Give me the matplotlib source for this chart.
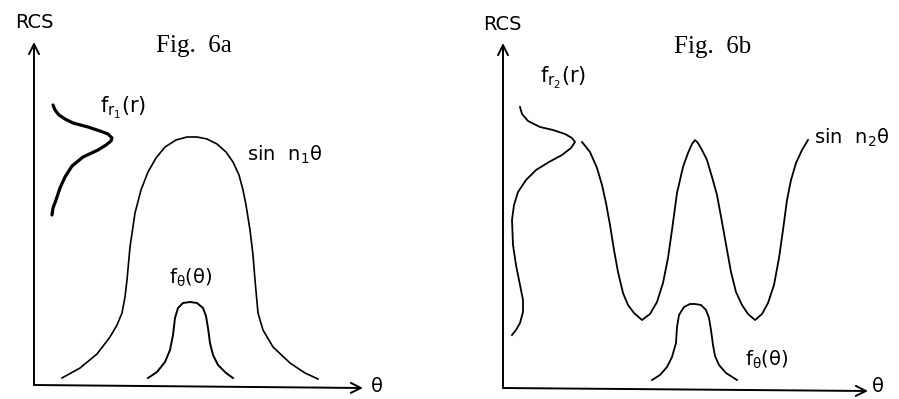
import matplotlib
matplotlib.use("Agg")
import matplotlib.pyplot as plt

# Values (picture pixel units, y downward)

# ---- Fig. 6a ----
a_axis_x = [34, 34, 363]          # top of RCS axis / origin / end of theta axis
a_axis_y = [42, 385, 388]
a_fr_x = [53, 55, 59, 65, 73, 88, 100, 108, 112, 111, 106, 98, 83, 72, 65, 60, 56, 53, 52]
a_fr_y = [105, 110, 115, 119, 123, 127, 131, 134, 138, 141, 145, 150, 157, 166, 177, 188, 200, 208, 215]
a_sin_x = [62, 80, 97, 110, 117, 122, 125, 127, 130, 135, 141, 148, 156, 165, 176, 187, 197,
           207, 217, 226, 233, 239, 243, 246, 250, 253, 255, 258, 263, 273, 290, 305, 318]
a_sin_y = [378, 368, 354, 337, 325, 313, 297, 280, 247, 213, 190, 172, 158, 147, 140, 137, 137,
           139, 144, 152, 162, 175, 190, 205, 230, 255, 280, 313, 330, 347, 363, 373, 379]
a_ft_x = [148, 157, 165, 170, 173, 175, 178, 183, 190, 197, 203, 206, 208, 210, 213, 218, 226, 233]
a_ft_y = [378, 372, 362, 350, 335, 318, 308, 303, 302, 303, 308, 316, 328, 343, 355, 365, 373, 378]

# ---- Fig. 6b ----
b_axis_x = [503, 503, 868]
b_axis_y = [43, 388, 391]
b_fr_x = [520, 522, 528, 540, 553, 565, 572, 575, 571, 562, 549, 536, 526, 518, 514, 512, 513,
          516, 520, 523, 523, 520, 516, 512]
b_fr_y = [107, 114, 121, 127, 130, 134, 138, 142, 148, 155, 162, 170, 180, 192, 205, 220, 245,
          265, 285, 300, 312, 323, 330, 335]
b_sin_x = [582, 590, 597, 602, 606, 610, 614, 618, 623, 628, 634, 642, 650, 657, 663, 668, 672,
           677, 683, 688, 692, 695, 698, 702, 707, 712, 717, 722, 727, 731, 736, 742, 748, 755, 762,
           768, 774, 779, 783, 787, 791, 796, 802, 808]
b_sin_y = [142, 152, 168, 185, 203, 225, 250, 272, 293, 305, 313, 320, 314, 302, 283, 258, 230,
           193, 167, 153, 144, 140, 143, 150, 160, 177, 195, 222, 250, 272, 292, 305, 314, 320, 314,
           303, 285, 258, 230, 200, 180, 163, 150, 140]
b_ft_x = [652, 660, 667, 672, 676, 677, 679, 684, 690, 695, 701, 706, 709, 711, 713, 715, 719, 726, 737]
b_ft_y = [380, 375, 367, 357, 343, 327, 315, 307, 304, 304, 305, 310, 318, 330, 345, 356, 365, 373, 380]

plt.rcParams["mathtext.fontset"] = "dejavusans"

fig = plt.figure(figsize=(8.99, 3.99), dpi=100)
ax = fig.add_axes([0, 0, 1, 1])
ax.set_xlim(0, 899)
ax.set_ylim(399, 0)
ax.axis("off")

ink = "black"

for axx, axy in [(a_axis_x, a_axis_y), (b_axis_x, b_axis_y)]:
    arrow = dict(arrowstyle="->", lw=1.4, color=ink, mutation_scale=18, shrinkA=0, shrinkB=0)
    ax.annotate("", xy=(axx[0], axy[0]), xytext=(axx[1], axy[1]), arrowprops=arrow)
    ax.annotate("", xy=(axx[2], axy[2]), xytext=(axx[1], axy[1]), arrowprops=arrow)

ax.plot(a_fr_x, a_fr_y, color=ink, lw=2.3, solid_capstyle="round", solid_joinstyle="round")
ax.plot(a_sin_x, a_sin_y, color=ink, lw=1.2, solid_joinstyle="round")
ax.plot(a_ft_x, a_ft_y, color=ink, lw=1.4, solid_joinstyle="round")
ax.plot(b_fr_x, b_fr_y, color=ink, lw=1.3, solid_joinstyle="round")
ax.plot(b_sin_x, b_sin_y, color=ink, lw=1.3, solid_joinstyle="round")
ax.plot(b_ft_x, b_ft_y, color=ink, lw=1.3, solid_joinstyle="round")

lab = dict(color=ink, fontsize=14, ha="center", va="center")
ax.text(34, 22, "RCS", **lab)
ax.text(502, 25, "RCS", **lab)
ax.text(377, 386, "θ", **lab)
ax.text(878, 387, "θ", **lab)
ax.text(123, 108, r"$\mathregular{f_{r_1}(r)}$", fontsize=15, color=ink, ha="center", va="center")
ax.text(563, 78, r"$\mathregular{f_{r_2}(r)}$", fontsize=15, color=ink, ha="center", va="center")
ax.text(285, 155, r"$\mathregular{sin\ \ n_1\theta}$", **lab)
ax.text(852, 138, r"$\mathregular{sin\ \ n_2\theta}$", **lab)
ax.text(191, 278, r"$\mathregular{f_\theta(\theta)}$", **lab)
ax.text(767, 360, r"$\mathregular{f_\theta(\theta)}$", **lab)

fig_lab = dict(color=ink, fontsize=18, ha="center", va="center", family="Liberation Serif")
ax.text(194, 46, "Fig.  6a", **fig_lab)
ax.text(713, 47, "Fig.  6b", **fig_lab)

fig.savefig("out.png", dpi=100)
